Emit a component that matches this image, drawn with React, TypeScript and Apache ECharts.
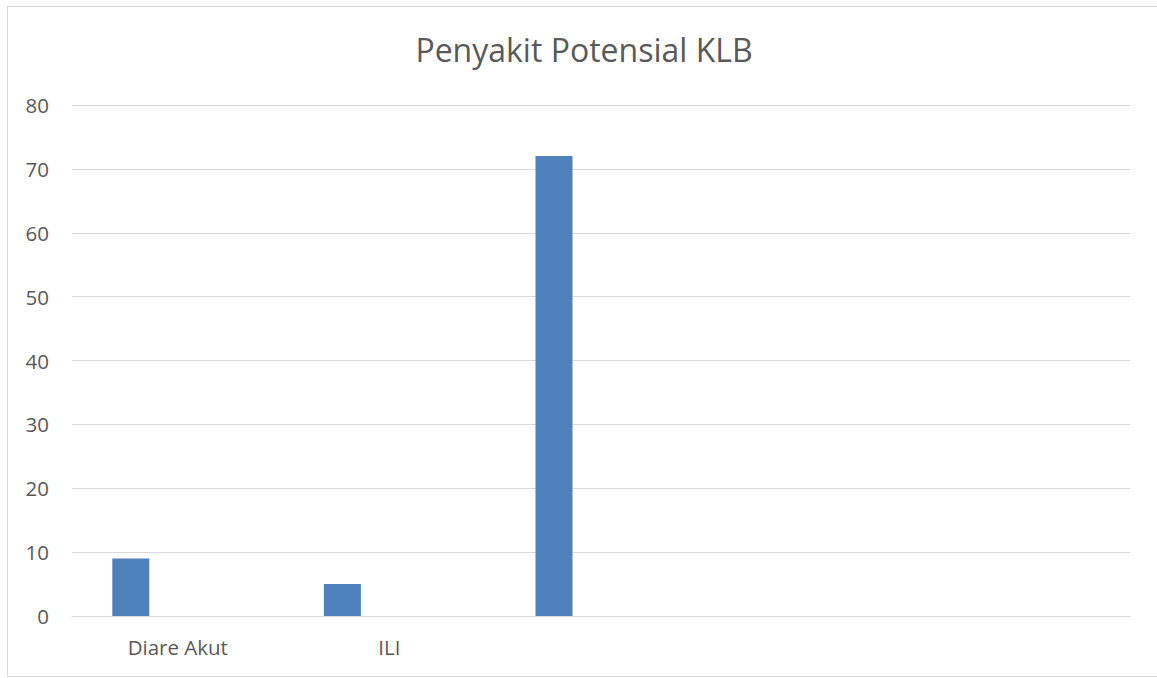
import React, { useEffect, useRef } from "react";
import * as echarts from "echarts";

const categories = ["Diare Akut", "ILI", "", "", ""];
const series1 = [9, 5, 72, null, null];
const series2 = [null, null, null, null, null];
const series3 = [null, null, null, null, null];
const yTicks = { min: 0, max: 80, interval: 10 };
const title = "Penyakit Potensial KLB";

const FONT = "'Open Sans', 'Noto Sans', sans-serif";
const TXT = "#595959";
const GRID = "#d9d9d9";
const BAR = "#4f81bd";

export default function App() {
  const ref = useRef<HTMLDivElement>(null);
  useEffect(() => {
    if (!ref.current) return;
    const chart = echarts.init(ref.current, null, { renderer: "svg" });
    chart.setOption({
      animation: false,
      backgroundColor: "#ffffff",
      title: {
        text: title,
        left: 579,
        textAlign: "center",
        top: 28,
        textStyle: { fontFamily: FONT, fontSize: 32, fontWeight: "normal", color: TXT },
      },
      graphic: [
        {
          type: "rect",
          shape: { x: 7.5, y: 6.5, width: 1160, height: 670 },
          style: { fill: "none", stroke: GRID, lineWidth: 1 },
          silent: true,
        },
      ],
      grid: { left: 72, right: 27, top: 105, bottom: 62, containLabel: false },
      xAxis: {
        type: "category",
        data: categories,
        axisLine: { show: true, lineStyle: { color: GRID, width: 1 } },
        axisTick: { show: false },
        axisLabel: { color: TXT, fontFamily: FONT, fontSize: 20.5, margin: 20, interval: 0 },
      },
      yAxis: {
        type: "value",
        min: yTicks.min,
        max: yTicks.max,
        interval: yTicks.interval,
        axisLine: { show: false },
        axisTick: { show: false },
        splitLine: { lineStyle: { color: GRID, width: 1 } },
        axisLabel: { color: TXT, fontFamily: FONT, fontSize: 20.5, margin: 23 },
      },
      series: [
        { type: "bar", data: series1, barWidth: 37, barGap: "27%", itemStyle: { color: BAR } },
        { type: "bar", data: series2, barWidth: 37, barGap: "27%", itemStyle: { color: "#c0504d" } },
        { type: "bar", data: series3, barWidth: 37, barGap: "27%", itemStyle: { color: "#9bbb59" } },
      ],
    });
    return () => chart.dispose();
  }, []);
  return (
    <div
      ref={ref}
      style={{ position: "fixed", left: 0, top: 0, width: 1157, height: 678 }}
    />
  );
}
